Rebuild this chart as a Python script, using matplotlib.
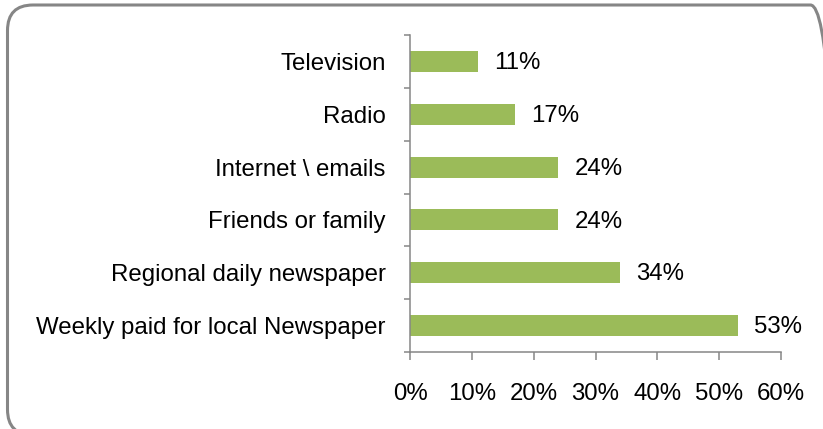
import matplotlib
matplotlib.use("Agg")
import matplotlib.pyplot as plt
from matplotlib.patches import FancyBboxPatch
from matplotlib.ticker import FuncFormatter

categories = [
    "Weekly paid for local Newspaper",
    "Regional daily newspaper",
    "Friends or family",
    "Internet \\ emails",
    "Radio",
    "Television",
]
values = [53, 34, 24, 24, 17, 11]
x_ticks = [0, 10, 20, 30, 40, 50, 60]

plt.rcParams["font.family"] = ["Liberation Sans", "DejaVu Sans"]

W, H, DPI = 823, 429, 100
fig = plt.figure(figsize=(W / DPI, H / DPI), dpi=DPI, facecolor="white")

# Rounded outer frame (runs past the right and bottom edges of the canvas)
frame = FancyBboxPatch((7.5 / W, -6 / H), (836 - 7.5) / W, (424 + 6) / H,
                       boxstyle="round,pad=0,rounding_size=0.031",
                       transform=fig.transFigure, facecolor="none",
                       edgecolor="#868686", linewidth=2.2, zorder=-1,
                       mutation_aspect=W / H)
fig.patches.append(frame)

ax = fig.add_axes([410 / W, 1 - 352 / H, (781 - 410) / W, (352 - 35) / H])
ax.set_facecolor("none")

grey = "#868686"
fs = 17.3
ypos = list(range(len(categories)))
ax.barh(ypos, values, height=0.4, color="#9BBB59", zorder=2)
for y, v in zip(ypos, values):
    ax.text(v + 2.6, y - 0.03, f"{v}%", va="center", ha="left", fontsize=fs, color="black")

ax.set_xlim(0, 60)
ax.set_ylim(-0.5, len(categories) - 0.5)
ax.set_xticks(x_ticks)
ax.xaxis.set_major_formatter(FuncFormatter(lambda v, p: f"{v:.0f}%"))
ax.set_yticks(ypos)
ax.set_yticklabels(categories)
ax.set_yticks([i - 0.5 for i in range(len(categories) + 1)], minor=True)

ax.tick_params(axis="y", which="major", length=0, pad=17.5, labelsize=fs)
ax.tick_params(axis="y", which="minor", length=4.3, width=1.1, color=grey, direction="out")
ax.tick_params(axis="x", which="major", length=5.8, width=1.1, color=grey,
               direction="out", pad=16.5, labelsize=fs)

for side in ("top", "right"):
    ax.spines[side].set_visible(False)
for side in ("left", "bottom"):
    ax.spines[side].set_color(grey)
    ax.spines[side].set_linewidth(1.1)

fig.savefig("out.png", dpi=DPI)
